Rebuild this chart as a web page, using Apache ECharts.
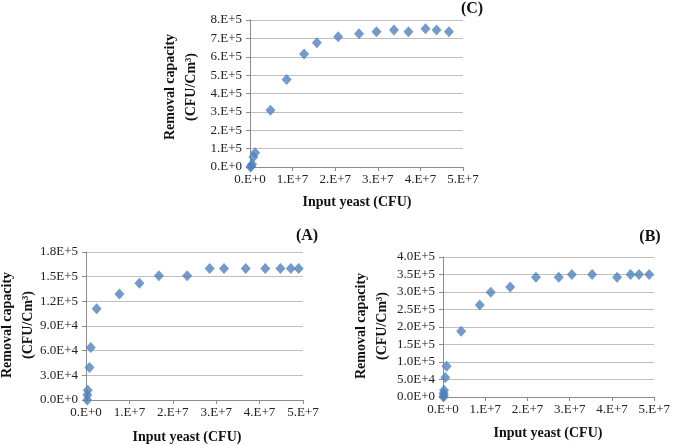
<!DOCTYPE html>
<html>
<head>
<meta charset="utf-8">
<script src="https://cdn.jsdelivr.net/npm/echarts@6/dist/echarts.min.js"></script>
<style>html,body{margin:0;padding:0;background:#fff;}#c{width:673px;height:445px;}</style>
</head>
<body>
<div id="c"></div>
<script>
// Panel C data
const cX = [0.1e6, 0.3e6, 0.5e6, 0.8e6, 1.2e6, 4.8e6, 8.6e6, 12.7e6, 15.7e6, 20.7e6, 25.6e6, 29.7e6, 33.8e6, 37.2e6, 41.2e6, 43.8e6, 46.7e6];
const cY = [0, 0.6e4, 1.5e4, 5.5e4, 7.8e4, 3.09e5, 4.76e5, 6.15e5, 6.76e5, 7.09e5, 7.25e5, 7.36e5, 7.45e5, 7.36e5, 7.53e5, 7.45e5, 7.36e5];
// Panel A data
const aX = [0.3e6, 0.3e6, 0.4e6, 0.8e6, 1.1e6, 2.45e6, 7.7e6, 12.3e6, 16.8e6, 23.3e6, 28.5e6, 31.8e6, 36.8e6, 41.3e6, 44.8e6, 47.2e6, 49.0e6];
const aY = [0, 0.6e4, 1.2e4, 3.96e4, 6.4e4, 11.1e4, 12.9e4, 14.2e4, 15.1e4, 15.1e4, 16.0e4, 16.0e4, 16.0e4, 16.0e4, 16.0e4, 16.0e4, 16.0e4];
// Panel B data
const bX = [0.1e6, 0.2e6, 0.15e6, 0.25e6, 0.54e6, 0.85e6, 4.3e6, 8.7e6, 11.3e6, 15.9e6, 22.0e6, 27.4e6, 30.5e6, 35.3e6, 41.2e6, 44.4e6, 46.4e6, 48.8e6];
const bY = [0, 0.4e4, 1.1e4, 1.9e4, 5.6e4, 8.8e4, 18.8e4, 26.3e4, 29.9e4, 31.4e4, 34.2e4, 34.2e4, 35.0e4, 35.0e4, 34.2e4, 35.0e4, 35.0e4, 35.0e4];

// Axis ranges / tick intervals
const xMax = 5e7, xInterval = 1e7;
const cYMax = 8e5, cYInterval = 1e5;
const aYMax = 1.8e5, aYInterval = 3e4;
const bYMax = 4e5, bYInterval = 5e4;

const xAxisTitle = 'Input yeast (CFU)';
const yAxisTitle = 'Removal capacity\n(CFU/Cm³)';
const panelLabels = ['(C)', '(A)', '(B)'];

function sci(v, dec) {
  if (v === 0) return dec === 0 ? '0.E+0' : '0.' + '0'.repeat(dec) + 'E+0';
  let e = Math.floor(Math.log10(Math.abs(v)) + 1e-9);
  let m = v / Math.pow(10, e);
  let ms = m.toFixed(dec);
  if (parseFloat(ms) >= 10) { e += 1; m = v / Math.pow(10, e); ms = m.toFixed(dec); }
  if (dec === 0) ms = ms + '.';
  return ms + 'E+' + e;
}

const FONT = '"Liberation Serif", "Times New Roman", serif';
const COLOR = '#4f81bd';

function xAx(gi) {
  return {
    type: 'value', gridIndex: gi, min: 0, max: xMax, interval: xInterval,
    axisLine: { show: true, lineStyle: { color: '#8c8c8c', width: 1 } },
    axisTick: { show: true, length: 4, lineStyle: { color: '#8c8c8c' } },
    splitLine: { show: false },
    axisLabel: { fontFamily: FONT, fontSize: 13, color: '#222', margin: 6, formatter: v => sci(v, 0) }
  };
}
function yAx(gi, max, interval, dec) {
  return {
    type: 'value', gridIndex: gi, min: 0, max: max, interval: interval,
    axisLine: { show: true, lineStyle: { color: '#8c8c8c', width: 1 } },
    axisTick: { show: true, length: 4, lineStyle: { color: '#8c8c8c' } },
    splitLine: { show: true, lineStyle: { color: '#bfbfbf', width: 1 } },
    axisLabel: { fontFamily: FONT, fontSize: 13, color: '#222', margin: 8, formatter: v => sci(v, dec) }
  };
}
function pairs(xs, ys) { return xs.map((x, i) => [x, ys[i]]); }
function ser(gi, xs, ys) {
  return { type: 'scatter', xAxisIndex: gi, yAxisIndex: gi, symbol: 'diamond', symbolSize: [10, 11],
    itemStyle: { color: COLOR }, data: pairs(xs, ys), silent: true };
}
function txt(x, y, s, size, rot) {
  return { type: 'text', x: x, y: y, rotation: rot || 0,
    style: { text: s, font: 'bold ' + size + 'px ' + FONT, fill: '#111', align: 'center', verticalAlign: 'middle', lineHeight: 21 } };
}

const chart = echarts.init(document.getElementById('c'), null, { renderer: 'canvas' });
chart.setOption({
  animation: false,
  backgroundColor: '#fff',
  grid: [
    { left: 250, right: 210, top: 20, bottom: 278 },
    { left: 86, right: 370, top: 252, bottom: 45 },
    { left: 443, right: 15, top: 257, bottom: 48 }
  ],
  xAxis: [xAx(0), xAx(1), xAx(2)],
  yAxis: [yAx(0, cYMax, cYInterval, 0), yAx(1, aYMax, aYInterval, 1), yAx(2, bYMax, bYInterval, 1)],
  series: [ser(0, cX, cY), ser(1, aX, aY), ser(2, bX, bY)],
  graphic: [
    txt(472, 9, panelLabels[0], 16),
    txt(307, 236, panelLabels[1], 16),
    txt(650, 237, panelLabels[2], 16),
    txt(357, 202, xAxisTitle, 14),
    txt(187, 437, xAxisTitle, 14),
    txt(548, 433, xAxisTitle, 14),
    txt(181, 87, yAxisTitle, 14, Math.PI / 2),
    txt(18, 325, yAxisTitle, 14, Math.PI / 2),
    txt(372, 326, yAxisTitle, 14, Math.PI / 2)
  ]
});
</script>
</body>
</html>
